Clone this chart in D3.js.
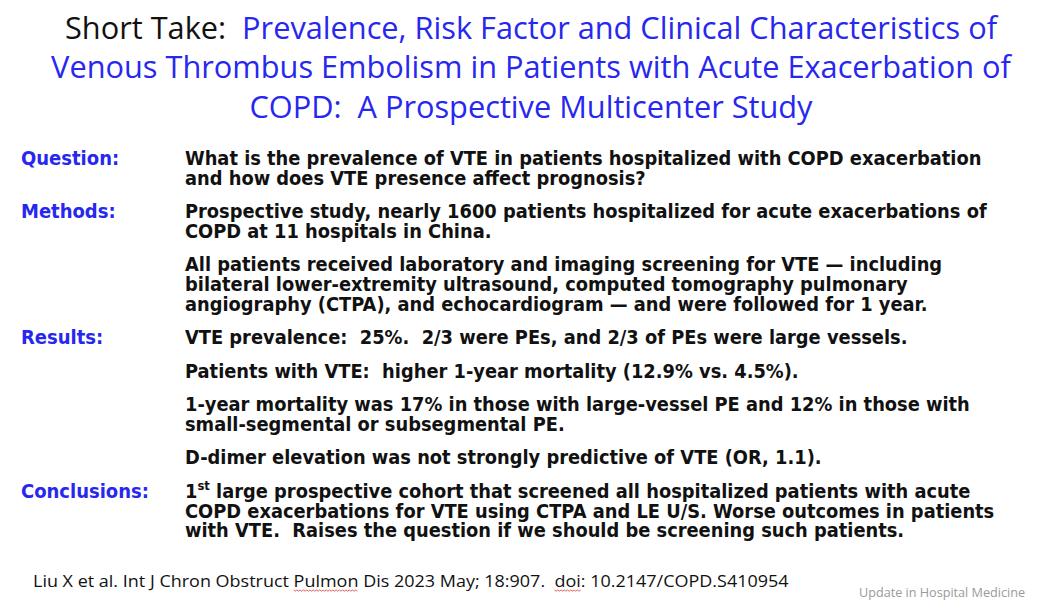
<!DOCTYPE html>
<html>
<head>
<meta charset="utf-8">
<script src="https://cdn.jsdelivr.net/npm/d3@7"></script>
<style>
  body { margin: 0; background: #fff; }
</style>
</head>
<body>
<div id="slide"></div>
<script>
var svgWidth = 1046;
var svgHeight = 612;

// slide content
var titlePrefix = "Short Take:  ";
var titleLines = [
  "Prevalence, Risk Factor and Clinical Characteristics of",
  "Venous Thrombus Embolism in Patients with Acute Exacerbation of",
  "COPD:  A Prospective Multicenter Study"
];

var sectionLabels = ["Question:", "Methods:", "", "Results:", "", "", "", "Conclusions:"];

var paragraphs = [
  ["What is the prevalence of VTE in patients hospitalized with COPD exacerbation",
   "and how does VTE presence affect prognosis?"],
  ["Prospective study, nearly 1600 patients hospitalized for acute exacerbations of",
   "COPD at 11 hospitals in China."],
  ["All patients received laboratory and imaging screening for VTE \u2014 including",
   "bilateral lower-extremity ultrasound, computed tomography pulmonary",
   "angiography (CTPA), and echocardiogram \u2014 and were followed for 1 year."],
  ["VTE prevalence:  25%.  2/3 were PEs, and 2/3 of PEs were large vessels."],
  ["Patients with VTE:  higher 1-year mortality (12.9% vs. 4.5%)."],
  ["1-year mortality was 17% in those with large-vessel PE and 12% in those with",
   "small-segmental or subsegmental PE."],
  ["D-dimer elevation was not strongly predictive of VTE (OR, 1.1)."],
  ["1^st large prospective cohort that screened all hospitalized patients with acute",
   "COPD exacerbations for VTE using CTPA and LE U/S. Worse outcomes in patients",
   "with VTE.  Raises the question if we should be screening such patients."]
];

var citation = "Liu X et al. Int J Chron Obstruct Pulmon Dis 2023 May; 18:907.  doi: 10.2147/COPD.S410954";
var flaggedWords = ["Pulmon", "doi"];
var footerNote = "Update in Hospital Medicine";

var blue = "#2727f0";
var bodyFont = "'DejaVu Sans', Verdana, sans-serif";

var svg = d3.select("#slide").append("svg")
    .attr("width", svgWidth)
    .attr("height", svgHeight);

// squeeze a group horizontally so its widest text fits
function fitWidth(group, sel, target, x0) {
  var w = d3.max(sel.nodes(), n => n.getComputedTextLength());
  var sx = target / w;
  group.attr("transform", `translate(${x0},0) scale(${sx},1)`);
  return sx;
}

// Title
var titleGroup = svg.append("g");
var titleText = titleGroup.selectAll("text")
    .data(titleLines)
    .enter()
    .append("text")
    .attr("x", 0)
    .attr("y", (d, i) => 39 + i * 39.5)
    .attr("text-anchor", "middle")
    .attr("font-family", "'Open Sans', 'Noto Sans', sans-serif")
    .attr("font-size", "31px")
    .attr("fill", blue)
    .attr("xml:space", "preserve");

titleText.each(function(d, i) {
  var t = d3.select(this);
  if (i === 0) {
    t.append("tspan").attr("fill", "#111").text(titlePrefix);
  }
  t.append("tspan").text(d);
});

fitWidth(titleGroup, titleText, 960, 531);

// Body
var lineH = 19.7;
var paraGap = 33.5;
var baselines = [];
var yCur = 165;
paragraphs.forEach(function(p) {
  baselines.push(yCur);
  yCur += (p.length - 1) * lineH + paraGap;
});

var labelGroup = svg.append("g");
var labels = labelGroup.selectAll("text")
    .data(sectionLabels)
    .enter()
    .append("text")
    .attr("x", 0)
    .attr("y", (d, i) => baselines[i])
    .attr("font-family", bodyFont)
    .attr("font-weight", "bold")
    .attr("font-size", "20px")
    .attr("fill", blue)
    .text(d => d);

fitWidth(labelGroup, labels, 128, 21);

var bodyGroup = svg.append("g");
var paraG = bodyGroup.selectAll("g")
    .data(paragraphs)
    .enter()
    .append("g");

var bodyLines = paraG.selectAll("text")
    .data((d, i) => d.map((line, j) => ({line: line, y: baselines[i] + j * lineH})))
    .enter()
    .append("text")
    .attr("x", 0)
    .attr("y", d => d.y)
    .attr("font-family", bodyFont)
    .attr("font-weight", "bold")
    .attr("font-size", "20px")
    .attr("fill", "#111")
    .attr("xml:space", "preserve");

bodyLines.each(function(d) {
  var t = d3.select(this);
  var parts = d.line.split("^");
  if (parts.length > 1) {
    var sup = parts[1].split(" ")[0];
    t.append("tspan").text(parts[0]);
    t.append("tspan").attr("dy", -8).attr("font-size", "13px").text(sup);
    t.append("tspan").attr("dy", 8).text(parts[1].slice(sup.length));
  } else {
    t.text(d.line);
  }
});

fitWidth(bodyGroup, bodyLines, 810, 185);

// Footer citation
var footGroup = svg.append("g");
var cite = footGroup.append("text")
    .attr("x", 0)
    .attr("y", 587)
    .attr("font-family", "'Open Sans', 'Noto Sans', sans-serif")
    .attr("font-size", "16.5px")
    .attr("fill", "#111")
    .attr("xml:space", "preserve")
    .text(citation);

var fsx = fitWidth(footGroup, cite, 756, 33);

// spell-check squiggles under flagged words
flaggedWords.forEach(function(w) {
  var idx = citation.indexOf(w);
  var node = cite.node();
  var x1 = node.getStartPositionOfChar(idx).x;
  var x2 = node.getEndPositionOfChar(idx + w.length - 1).x;
  var pts = [];
  for (var x = x1; x <= x2; x += 1.5) {
    pts.push([x, 590 + (Math.round((x - x1) / 1.5) % 2 ? 1.2 : 0)]);
  }
  footGroup.append("path")
      .attr("d", d3.line()(pts))
      .attr("fill", "none")
      .attr("stroke", "#e23030")
      .attr("stroke-width", 0.8 / fsx);
});

svg.append("text")
    .attr("x", 1025)
    .attr("y", 597)
    .attr("text-anchor", "end")
    .attr("font-family", "'Open Sans', 'Noto Sans', sans-serif")
    .attr("font-size", "13.5px")
    .attr("fill", "#9a9a9a")
    .attr("textLength", 166)
    .attr("lengthAdjust", "spacingAndGlyphs")
    .text(footerNote);
</script>
</body>
</html>
